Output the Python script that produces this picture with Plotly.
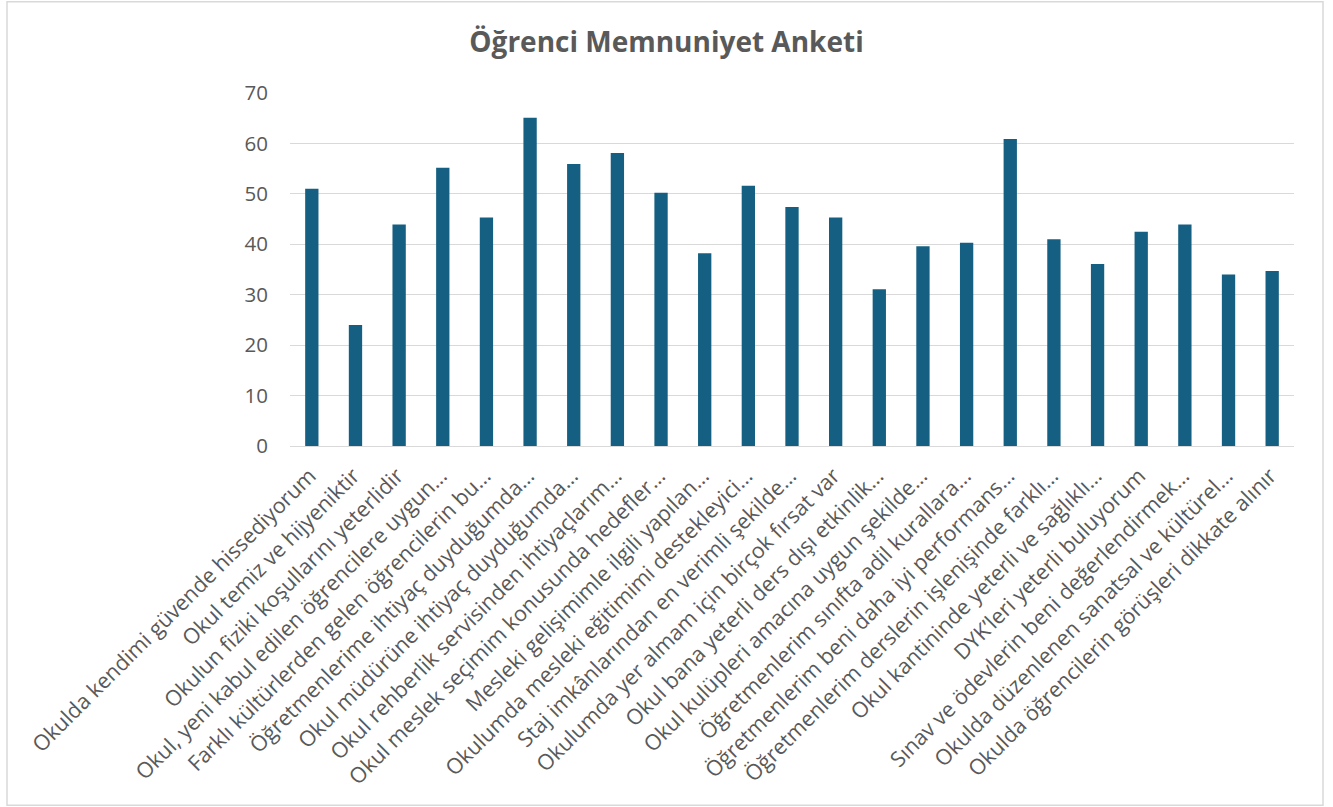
import plotly.graph_objects as go

categories = [
    "Okulda kendimi güvende hissediyorum",
    "Okul temiz ve hijyeniktir",
    "Okulun fiziki koşullarını yeterlidir",
    "Okul, yeni kabul edilen öğrencilere uygun…",
    "Farklı kültürlerden gelen öğrencilerin bu…",
    "Öğretmenlerime ihtiyaç duyduğumda…",
    "Okul müdürüne ihtiyaç duyduğumda…",
    "Okul rehberlik servisinden ihtiyaçlarım…",
    "Okul meslek seçimim konusunda hedefler…",
    "Mesleki gelişimimle ilgili yapılan…",
    "Okulumda mesleki eğitimimi destekleyici…",
    "Staj imkânlarından en verimli şekilde…",
    "Okulumda yer almam için birçok fırsat var",
    "Okul bana yeterli ders dışı etkinlik…",
    "Okul kulüpleri amacına uygun şekilde…",
    "Öğretmenlerim sınıfta adil kurallara…",
    "Öğretmenlerim beni daha iyi performans…",
    "Öğretmenlerim derslerin işlenişinde farklı…",
    "Okul kantininde yeterli ve sağlıklı…",
    "DYK’leri yeterli buluyorum",
    "Sınav ve ödevlerin beni değerlendirmek…",
    "Okulda düzenlenen sanatsal ve kültürel…",
    "Okulda öğrencilerin görüşleri dikkate alınır",
]
values = [51.0, 24.0, 43.9, 55.2, 45.3, 65.1, 55.9, 58.1, 50.2, 38.2, 51.6,
          47.4, 45.3, 31.1, 39.6, 40.3, 60.9, 41.0, 36.1, 42.5, 43.9, 34.0, 34.7]
y_ticks = [0, 10, 20, 30, 40, 50, 60, 70]

W, H = 1333, 807
L, R, T, B = 290, 39, 92.7, 361.3
pw, ph = W - L - R, H - T - B

fig = go.Figure(go.Bar(
    x=categories, y=values,
    marker=dict(color="#156082", line=dict(color="#156082", width=0)),
))

text_color = "#595959"
font_family = "Open Sans, Liberation Sans, sans-serif"

fig.update_layout(
    width=W, height=H,
    margin=dict(l=L, r=R, t=T, b=B, autoexpand=False),
    paper_bgcolor="white", plot_bgcolor="white",
    bargap=0.695,
    showlegend=False,
    title=dict(text="<b>Öğrenci Memnuniyet Anketi</b>", x=0.5, xref="container",
               xanchor="center", y=1 - 42 / H, yref="container", yanchor="middle",
               font=dict(size=28, color=text_color, family=font_family)),
    font=dict(family=font_family, color=text_color),
    xaxis=dict(tickangle=-45, tickfont=dict(size=21.5, color=text_color),
               showgrid=False, showline=False, ticks="", automargin=False,
               ticklabelstandoff=12, ticklabelshift=-2),
    yaxis=dict(range=[0, 70], tickvals=y_ticks, tickfont=dict(size=20.5, color=text_color),
               showgrid=True, gridcolor="#D9D9D9", gridwidth=1.3,
               zeroline=True, zerolinecolor="#D9D9D9", zerolinewidth=1.3,
               showline=False, ticks="", ticklabelstandoff=21, automargin=False),
    shapes=[dict(type="rect", xref="paper", yref="paper",
                 x0=(7 - L) / pw, x1=(1323 - L) / pw,
                 y0=(H - 805 - B) / ph, y1=(H - 1.5 - B) / ph,
                 line=dict(color="#D9D9D9", width=1.5), fillcolor="rgba(0,0,0,0)",
                 layer="below")],
)

fig.write_html("out.html", config={"displayModeBar": False},
               post_script="document.body.style.margin='0';document.body.style.overflow='hidden';")
